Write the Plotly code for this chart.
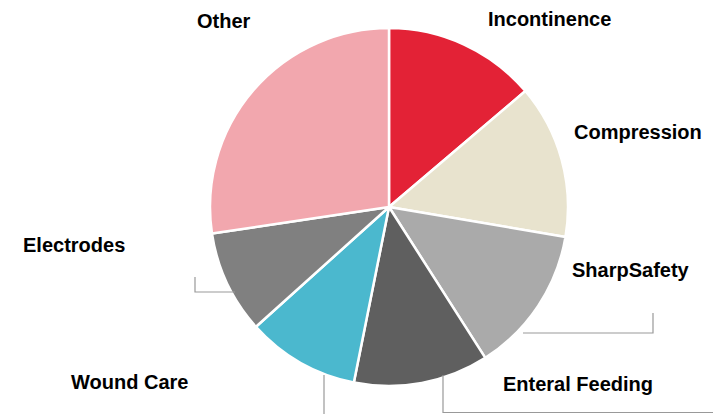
import plotly.graph_objects as go

W, H = 713, 414

labels = ["Incontinence", "Compression", "SharpSafety", "Enteral Feeding",
          "Wound Care", "Electrodes", "Other"]
values = [13.8, 13.9, 13.3, 12.2, 10.2, 9.3, 27.4]
colors = ["#E32236", "#E8E3CE", "#AAAAAA", "#5F5F5F", "#4BB8CE", "#808080", "#F2A7AE"]

# label text centres in pixels
label_pos = {
    "Incontinence": (549, 19.5),
    "Compression": (638, 132),
    "SharpSafety": (630.5, 270),
    "Enteral Feeding": (577.5, 384),
    "Wound Care": (129, 382),
    "Electrodes": (74, 245),
    "Other": (224, 21),
}

# leader lines (pixel paths)
leaders = [
    [(653, 313), (653, 333), (523, 333)],
    [(195, 277), (195, 292), (235, 292)],
    [(324, 375), (324, 414)],
    [(443, 375), (443, 412.5), (713, 412.5)],
]

cx, cy, r = 389, 207, 179


def px(x):
    return x / W


def py(y):
    return 1 - y / H


fig = go.Figure(go.Pie(
    labels=labels, values=values, sort=False, direction="clockwise", rotation=0,
    marker=dict(colors=colors, line=dict(color="white", width=2.5)),
    textinfo="none", hoverinfo="label+percent",
    domain=dict(x=[px(cx - r), px(cx + r)], y=[py(cy + r), py(cy - r)]),
    showlegend=False,
))

for lab, (x, y) in label_pos.items():
    fig.add_annotation(x=px(x), y=py(y), xref="paper", yref="paper", text=lab,
                       showarrow=False, xanchor="center", yanchor="middle",
                       font=dict(family="Liberation Sans, Arial, sans-serif", size=20,
                                 color="#000000", weight="bold"))

for pts in leaders:
    path = "M " + " L ".join(f"{px(x)},{py(y)}" for x, y in pts)
    fig.add_shape(type="path", path=path, xref="paper", yref="paper",
                  line=dict(color="#999999", width=1.2))

fig.update_layout(width=W, height=H, margin=dict(l=0, r=0, t=0, b=0),
                  paper_bgcolor="white", plot_bgcolor="white")

fig.write_html("out.html", config={"displayModeBar": False},
               post_script="document.body.style.margin='0';")
